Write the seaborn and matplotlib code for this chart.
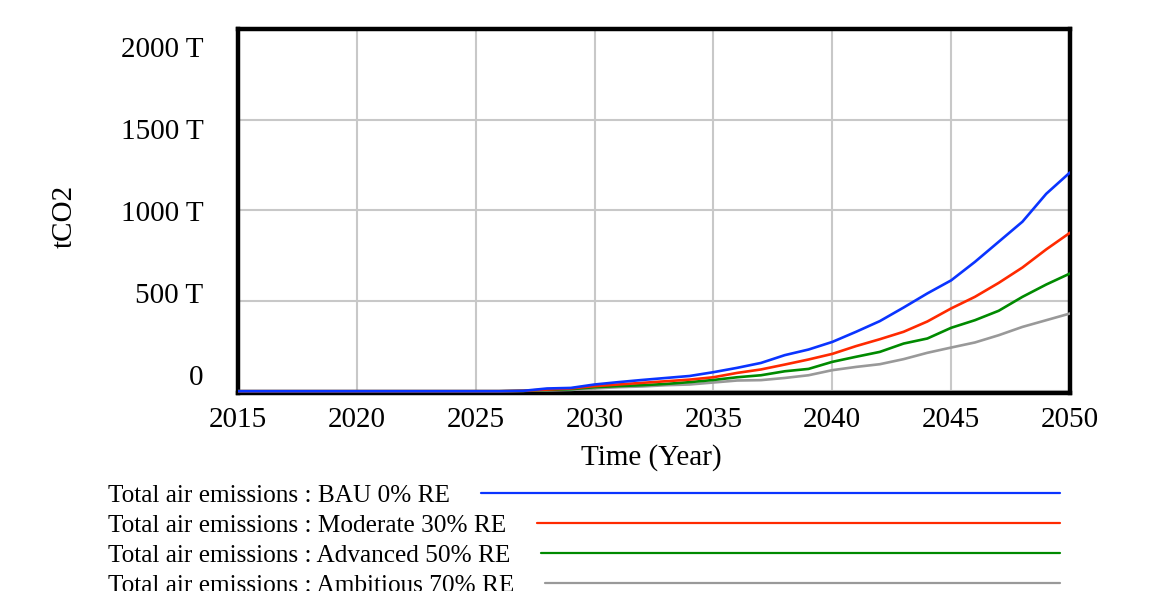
import matplotlib
matplotlib.use("Agg")
import matplotlib.pyplot as plt
import matplotlib.transforms as mtransforms
from matplotlib.lines import Line2D
import pandas as pd
import seaborn as sns

# Data (tCO2, thousands "T")
years = list(range(2015, 2051))
bau = [0, 0, 0, 0, 0, 0, 0, 0, 0, 0, 0, 0,
       2, 15, 18, 37, 50, 62, 73, 84, 105, 129, 156, 199, 230, 272,
       328, 387, 462, 540, 612, 714, 825, 936, 1090, 1208]
moderate = [0, 0, 0, 0, 0, 0, 0, 0, 0, 0, 0, 0,
            2, 9, 15, 28, 37, 46, 55, 64, 77, 101, 120, 147, 175, 206,
            249, 287, 328, 385, 457, 521, 598, 683, 783, 875]
advanced = [0, 0, 0, 0, 0, 0, 0, 0, 0, 0, 0, 0,
            2, 7, 11, 22, 28, 33, 40, 50, 62, 77, 88, 110, 123, 162,
            190, 217, 263, 291, 350, 392, 444, 521, 589, 650]
ambitious = [0, 0, 0, 0, 0, 0, 0, 0, 0, 0, 0, 0,
             2, 4, 7, 15, 22, 26, 33, 37, 48, 59, 61, 73, 88, 116,
             134, 149, 177, 212, 241, 269, 309, 355, 392, 429]

series_names = [
    "Total air emissions : BAU 0% RE",
    "Total air emissions : Moderate 30% RE",
    "Total air emissions : Advanced 50% RE",
    "Total air emissions : Ambitious 70% RE",
]
colors = ["#0a34ff", "#ff2a00", "#008a00", "#999999"]
ytick_vals = [0, 500, 1000, 1500, 2000]
ytick_labels = ["0", "500 T", "1000 T", "1500 T", "2000 T"]
xtick_vals = [2015, 2020, 2025, 2030, 2035, 2040, 2045, 2050]

df = pd.DataFrame({
    "year": years * 4,
    "value": bau + moderate + advanced + ambitious,
    "series": [n for n in series_names for _ in years],
})

sns.set_style("white")
plt.rcParams["font.family"] = ["Liberation Serif", "DejaVu Serif"]
plt.rcParams["text.color"] = "black"
plt.rcParams["axes.labelcolor"] = "black"
plt.rcParams["xtick.color"] = "black"
plt.rcParams["ytick.color"] = "black"

W, H = 1151, 591
fig = plt.figure(figsize=(W / 100, H / 100), dpi=100)
ax = fig.add_axes([238 / W, 1 - 393 / H, 832 / W, 364 / H])

sns.lineplot(data=df, x="year", y="value", hue="series", palette=colors,
             hue_order=series_names, linewidth=1.9, legend=False, ax=ax)
# first series sits on top, as in the original
for i, ln in enumerate(ax.lines):
    ln.set_zorder(8 - i)

ax.set_xlim(2015, 2050)
ax.set_ylim(-10, 2000)
ax.set_xticks(xtick_vals)
ax.set_xticklabels([str(x) for x in xtick_vals], fontsize=21)
ax.set_yticks(ytick_vals)
ax.set_yticklabels(ytick_labels, fontsize=21)
ax.tick_params(axis="both", length=0)
ax.tick_params(axis="x", pad=10)
ax.tick_params(axis="y", pad=25)

# Vensim spreads the y labels inside the axis span
label_shift_px = [-16, -8, 1, 9, 18]
for lab, dy in zip(ax.get_yticklabels(), label_shift_px):
    lab.set_transform(lab.get_transform() +
                      mtransforms.ScaledTranslation(0, -dy / 100, fig.dpi_scale_trans))

ax.grid(True, color="#c8c8c8", linewidth=1.5)
for s in ax.spines.values():
    s.set_visible(True)
    s.set_color("black")
    s.set_linewidth(3.2)
    s.set_zorder(2.5)

ax.set_xlabel("Time (Year)", fontsize=21, va="center")
ax.xaxis.set_label_coords(0.497, -0.177)
ax.set_ylabel("tCO2", fontsize=21, va="center")
ax.yaxis.set_label_coords(-0.208, 0.486)

# Legend rows: text followed by a line sample
fig.canvas.draw()
renderer = fig.canvas.get_renderer()
baselines = [501.7, 531.7, 561.7, 591.7]
line_ys = [492.7, 522.7, 552.7, 582.7]
for name, col, yb, yl in zip(series_names, colors, baselines, line_ys):
    t = fig.text(108 / W, 1 - yb / H, name, fontsize=18.2, va="baseline", ha="left")
    ext = t.get_window_extent(renderer=renderer)
    x0 = (ext.x1 + 31) / W
    fig.add_artist(Line2D([x0, 1060 / W], [1 - yl / H, 1 - yl / H],
                          transform=fig.transFigure, color=col, linewidth=1.6))

fig.savefig("out.png", dpi=100)
